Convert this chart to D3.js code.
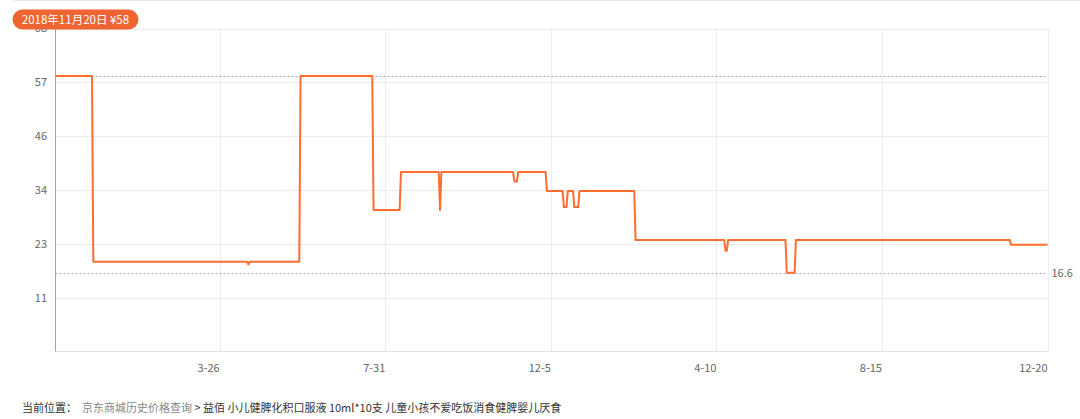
<!DOCTYPE html>
<html>
<head>
<meta charset="utf-8">
<script src="https://cdn.jsdelivr.net/npm/d3@7"></script>
<style>
  body { margin: 0; background: #fff; }
  svg { display: block; font-family: "Noto Sans CJK SC", "Noto Sans", sans-serif; }
  .crumb { white-space: pre; }
</style>
</head>
<body>
<svg id="chart" width="1080" height="419"></svg>
<script>
// Price history (step changes), one point per recorded day
const priceDates = [
  "2018-11-20", "2018-12-18", "2018-12-19", "2019-04-16", "2019-04-17", "2019-04-18",
  "2019-05-26", "2019-05-27", "2019-07-21", "2019-07-22", "2019-08-11", "2019-08-12",
  "2019-09-10", "2019-09-11", "2019-09-12", "2019-11-06", "2019-11-07", "2019-11-09",
  "2019-11-10", "2019-12-01", "2019-12-02", "2019-12-14", "2019-12-15", "2019-12-17",
  "2019-12-18", "2019-12-22", "2019-12-23", "2019-12-26", "2019-12-27", "2020-02-07",
  "2020-02-08", "2020-04-16", "2020-04-17", "2020-04-18", "2020-04-19", "2020-06-02",
  "2020-06-03", "2020-06-09", "2020-06-10", "2020-11-21", "2020-11-22", "2020-12-20"
];
const prices = [
  58, 58, 18.9, 18.9, 18.3, 18.9,
  18.9, 58, 58, 29.8, 29.8, 37.8,
  37.8, 29.8, 37.8, 37.8, 35.8, 35.8,
  37.8, 37.8, 33.8, 33.8, 30.4, 30.4,
  33.8, 33.8, 30.4, 30.4, 33.8, 33.8,
  23.5, 23.5, 21.2, 21.2, 23.5, 23.5,
  16.6, 16.6, 23.5, 23.5, 22.5, 22.5
];

// Axis ticks
const xTickDates = ["2019-03-26", "2019-07-31", "2019-12-05", "2020-04-10", "2020-08-15", "2020-12-20"];
const xTickLabels = ["3-26", "7-31", "12-5", "4-10", "8-15", "12-20"];
const yMax = 68;
const yTickValues = [11.333, 22.667, 34, 45.333, 56.667, 68];
const yTickLabels = ["11", "23", "34", "46", "57", "68"];

const breadcrumbParts = [
  { text: "当前位置：  ", color: "#333" },
  { text: "京东商城历史价格查询", color: "#888" },
  { text: " > 益佰 小儿健脾化积口服液 10ml*10支 儿童小孩不爱吃饭消食健脾婴儿厌食", color: "#333" }
];

const parse = d3.utcParse("%Y-%m-%d");
const points = priceDates.map((d, i) => ({ date: parse(d), price: prices[i] }));

const margin = { left: 55.5, right: 1047.5, top: 28.5, bottom: 351.5 };
const svg = d3.select("#chart");

const x = d3.scaleUtc()
  .domain([points[0].date, points[points.length - 1].date])
  .range([margin.left, margin.right]);
const y = d3.scaleLinear()
  .domain([0, yMax])
  .range([margin.bottom, margin.top]);

// Page divider at the very top
svg.append("line")
  .attr("x1", 14).attr("x2", 1080).attr("y1", 0.5).attr("y2", 0.5)
  .attr("stroke", "#e6e6e6");

// Horizontal grid
svg.append("g")
  .selectAll("line")
  .data(yTickValues)
  .join("line")
  .attr("x1", margin.left).attr("x2", margin.right)
  .attr("y1", d => Math.round(y(d)) + 0.5).attr("y2", d => Math.round(y(d)) + 0.5)
  .attr("stroke", "#ececec");

// Vertical grid
const xTicks = xTickDates.map(parse);
svg.append("g")
  .selectAll("line")
  .data(xTicks)
  .join("line")
  .attr("x1", d => Math.round(x(d)) + 0.5).attr("x2", d => Math.round(x(d)) + 0.5)
  .attr("y1", margin.top).attr("y2", margin.bottom)
  .attr("stroke", "#ececec");

// Bottom axis line
svg.append("line")
  .attr("x1", margin.left).attr("x2", margin.right)
  .attr("y1", margin.bottom).attr("y2", margin.bottom)
  .attr("stroke", "#e2e2e2");

// X tick labels (right-aligned to their grid line)
svg.append("g")
  .selectAll("text")
  .data(xTicks)
  .join("text")
  .attr("x", d => x(d))
  .attr("y", 368)
  .attr("dy", "0.35em")
  .attr("text-anchor", "end")
  .attr("font-size", 11)
  .attr("fill", "#666")
  .text((d, i) => xTickLabels[i]);

// Y tick labels (the top one sits under the badge)
svg.append("g")
  .selectAll("text")
  .data(yTickValues)
  .join("text")
  .attr("x", 47)
  .attr("y", d => y(d))
  .attr("dy", "0.35em")
  .attr("text-anchor", "end")
  .attr("font-size", 11)
  .attr("fill", "#666")
  .text((d, i) => yTickLabels[i]);

// Max / min reference lines
const maxPrice = d3.max(prices);
const minPrice = d3.min(prices);
svg.append("g")
  .selectAll("line")
  .data([maxPrice, minPrice])
  .join("line")
  .attr("x1", margin.left).attr("x2", margin.right)
  .attr("y1", d => Math.round(y(d)) + 0.5).attr("y2", d => Math.round(y(d)) + 0.5)
  .attr("stroke", "#aaa")
  .attr("stroke-dasharray", "2,2");

svg.append("text")
  .attr("x", margin.right + 4)
  .attr("y", y(minPrice))
  .attr("dy", "0.35em")
  .attr("font-size", 11)
  .attr("fill", "#666")
  .text(minPrice);

// Price line
const line = d3.line()
  .x(d => x(d.date))
  .y(d => y(d.price));
svg.append("path")
  .datum(points)
  .attr("d", line)
  .attr("fill", "none")
  .attr("stroke", "#ff6d30")
  .attr("stroke-width", 2)
  .attr("stroke-linejoin", "round");

// Left axis line
svg.append("line")
  .attr("x1", margin.left).attr("x2", margin.left)
  .attr("y1", margin.top).attr("y2", margin.bottom)
  .attr("stroke", "#f08a5c");

// Current-point badge
const fmtBadge = d3.utcFormat("%Y年%-m月%-d日");
const badge = svg.append("g");
badge.append("rect")
  .attr("x", 12.5).attr("y", 9.5)
  .attr("width", 126).attr("height", 20)
  .attr("rx", 10)
  .attr("fill", "#ee6531");
badge.append("text")
  .attr("x", 75.5).attr("y", 19.5)
  .attr("dy", "0.35em")
  .attr("text-anchor", "middle")
  .attr("font-size", 11.5)
  .attr("fill", "#fff")
  .text(`${fmtBadge(points[0].date)} ¥${points[0].price}`);

// Breadcrumb
const crumb = svg.append("text")
  .attr("class", "crumb")
  .attr("x", 22)
  .attr("y", 408)
  .attr("dy", "0.35em")
  .attr("font-size", 11);
crumb.selectAll("tspan")
  .data(breadcrumbParts)
  .join("tspan")
  .attr("fill", d => d.color)
  .text(d => d.text);
</script>
</body>
</html>
